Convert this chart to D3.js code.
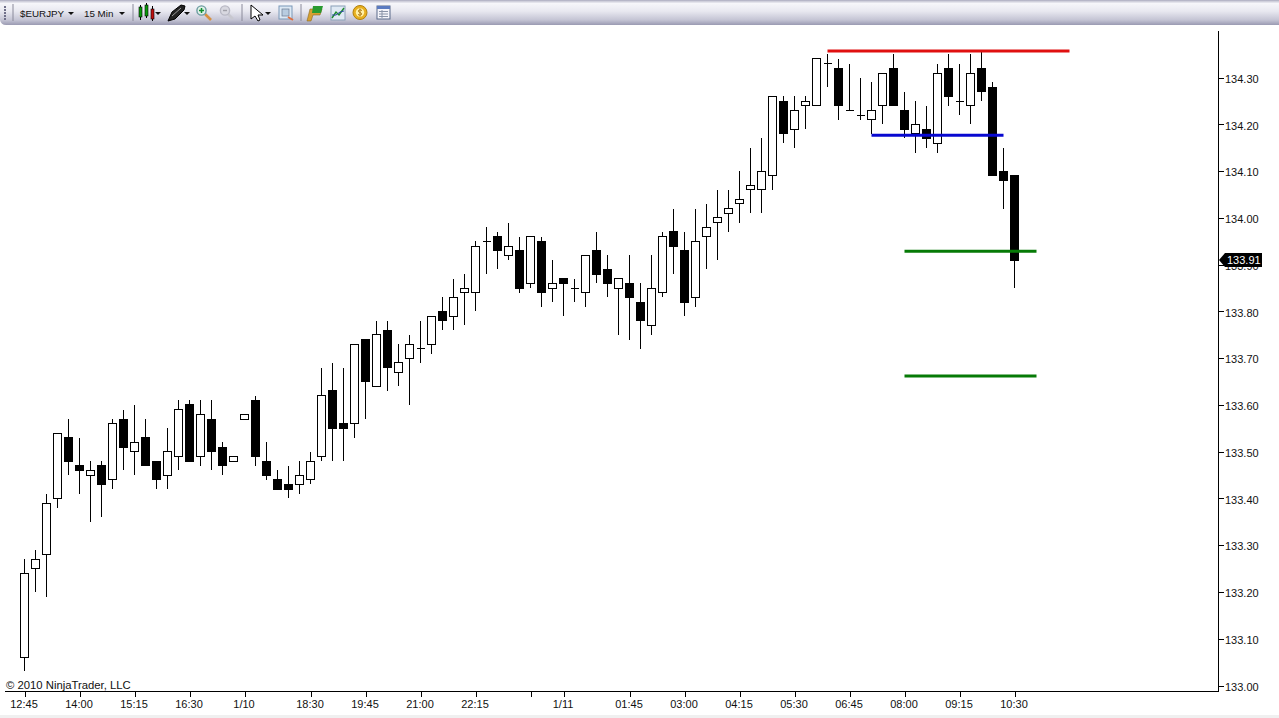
<!DOCTYPE html>
<html><head><meta charset="utf-8">
<script src="https://d3js.org/d3.v7.min.js"></script>
<style>
html,body{margin:0;padding:0;background:#fff;overflow:hidden}
svg{display:block}
text{font-family:"Liberation Sans",Arial,sans-serif;fill:#111}
</style></head><body><svg id="c" width="1279" height="718"></svg>
<script>
const opens=[133.06,133.25,133.28,133.40,133.53,133.47,133.45,133.47,133.44,133.57,
133.50,133.53,133.48,133.45,133.49,133.60,133.49,133.57,133.51,133.48,
133.57,133.61,133.48,133.44,133.43,133.43,133.44,133.49,133.63,133.56,
133.56,133.74,133.64,133.76,133.67,133.70,133.72,133.73,133.80,133.79,
133.84,133.84,133.95,133.96,133.92,133.93,133.86,133.95,133.85,133.87,
133.85,133.84,133.93,133.89,133.85,133.86,133.82,133.77,133.84,133.97,
133.93,133.83,133.96,133.99,134.01,134.03,134.06,134.06,134.09,134.25,
134.19,134.24,134.24,134.33,134.32,134.23,134.22,134.21,134.24,134.32,
134.23,134.18,134.19,134.16,134.32,134.25,134.24,134.32,134.28,134.10,134.09];
const highs=[133.27,133.29,133.41,133.54,133.57,133.53,133.48,133.48,133.57,133.59,
133.60,133.57,133.48,133.55,133.61,133.61,133.61,133.61,133.52,133.49,
133.58,133.62,133.52,133.46,133.47,133.48,133.50,133.68,133.69,133.68,
133.73,133.74,133.78,133.78,133.73,133.75,133.78,133.79,133.83,133.87,
133.88,133.95,133.98,133.97,133.99,133.96,133.96,133.96,133.91,133.87,
133.87,133.92,133.97,133.92,133.87,133.92,133.86,133.92,133.97,134.02,
133.97,134.02,134.03,134.06,134.06,134.10,134.15,134.17,134.26,134.26,
134.26,134.26,134.34,134.35,134.34,134.33,134.30,134.29,134.31,134.35,
134.27,134.25,134.24,134.33,134.35,134.33,134.35,134.36,134.29,134.15,134.09];
const lows=[133.03,133.20,133.19,133.38,133.45,133.41,133.35,133.36,133.42,133.46,
133.45,133.47,133.42,133.42,133.46,133.48,133.47,133.46,133.45,133.48,
133.57,133.47,133.44,133.42,133.40,133.41,133.43,133.48,133.48,133.48,
133.53,133.57,133.64,133.63,133.64,133.60,133.69,133.71,133.76,133.76,
133.77,133.80,133.88,133.89,133.91,133.84,133.85,133.81,133.82,133.79,
133.82,133.81,133.86,133.83,133.75,133.74,133.72,133.75,133.83,133.88,
133.79,133.81,133.89,133.91,133.97,133.99,134.01,134.01,134.06,134.16,
134.15,134.19,134.24,134.28,134.21,134.23,134.21,134.18,134.20,134.24,
134.17,134.14,134.15,134.14,134.24,134.22,134.20,134.25,134.09,134.02,133.85];
const closes=[133.24,133.27,133.39,133.54,133.48,133.46,133.46,133.43,133.56,133.51,
133.52,133.47,133.44,133.50,133.59,133.48,133.58,133.50,133.47,133.49,
133.58,133.49,133.45,133.42,133.42,133.45,133.48,133.62,133.55,133.55,
133.73,133.65,133.75,133.68,133.69,133.73,133.72,133.79,133.78,133.83,
133.85,133.94,133.95,133.93,133.94,133.85,133.96,133.84,133.86,133.86,
133.85,133.92,133.88,133.86,133.87,133.83,133.78,133.85,133.96,133.94,
133.82,133.95,133.98,134.00,134.02,134.04,134.07,134.10,134.26,134.18,
134.23,134.25,134.34,134.33,134.24,134.23,134.22,134.23,134.31,134.24,
134.19,134.20,134.17,134.31,134.26,134.25,134.31,134.27,134.09,134.08,133.91];

const timeTickBars=[0,5,10,15,20,26,31,36,41,46,49,55,60,65,70,75,80,85,90];
const timeTickLabels=["12:45","14:00","15:15","16:30","1/10","18:30","19:45","21:00","22:15","","1/11","01:45","03:00","04:15","05:30","06:45","08:00","09:15","10:30"];
const priceTicks=[133.00,133.10,133.20,133.30,133.40,133.50,133.60,133.70,133.80,133.90,134.00,134.10,134.20,134.30];

const levelPrices=[134.357,134.177,133.929,133.662];
const levelStarts=[73,77,80,80];
const levelEnds=[95,89,92,92];
const levelColors=["#e01010","#0808d0","#067a06","#067a06"];

const lastPrice=133.91;
const symbolText="$EURJPY", periodText="15 Min", copyrightText="© 2010 NinjaTrader, LLC";

const svg=d3.select("#c");
const x=d3.scaleLinear().domain([0,90]).range([24.5,1014.5]);
const y=d3.scaleLinear().domain([133.0,134.3]).range([685.5,77.7]);
const defs=svg.append("defs");

// window bottom strip
svg.append("rect").attr("x",0).attr("y",715).attr("width",1279).attr("height",3).attr("fill","#f0f0f0");

// candles
const candles=d3.range(opens.length).map(i=>({i,o:opens[i],h:highs[i],l:lows[i],c:closes[i]}));
const g=svg.append("g").attr("class","candles");
const cg=g.selectAll("g").data(candles).join("g").attr("shape-rendering","crispEdges");
cg.append("line").attr("x1",d=>x(d.i)).attr("x2",d=>x(d.i))
  .attr("y1",d=>y(d.h)).attr("y2",d=>y(d.l)).attr("stroke","#000").attr("stroke-width",1);
cg.filter(d=>d.o!==d.c).append("rect")
  .attr("x",d=>x(d.i)-4).attr("width",8)
  .attr("y",d=>y(Math.max(d.o,d.c)))
  .attr("height",d=>Math.abs(y(d.o)-y(d.c)))
  .attr("fill",d=>d.c>d.o?"#fff":"#000").attr("stroke","#000").attr("stroke-width",1);
cg.filter(d=>d.o===d.c).append("line")
  .attr("x1",d=>x(d.i)-4).attr("x2",d=>x(d.i)+4)
  .attr("y1",d=>y(d.o)).attr("y2",d=>y(d.o)).attr("stroke","#000").attr("stroke-width",1);

// drawn levels
svg.append("g").selectAll("line").data(levelPrices).join("line")
  .attr("x1",(d,i)=>x(levelStarts[i])).attr("x2",(d,i)=>x(levelEnds[i]))
  .attr("y1",d=>y(d)).attr("y2",d=>y(d))
  .attr("stroke",(d,i)=>levelColors[i]).attr("stroke-width",3);

// x axis
const xAxis=d3.axisBottom(x).tickValues(timeTickBars)
  .tickFormat((d,i)=>timeTickLabels[i]).tickSize(6).tickPadding(3).tickSizeOuter(0);
const gx=svg.append("g").attr("transform","translate(0,691)").call(xAxis);
gx.select(".domain").remove();
gx.selectAll("line").attr("stroke","#000").attr("shape-rendering","crispEdges");
gx.selectAll("text").attr("font-size",11).attr("font-family",'"Liberation Sans",Arial,sans-serif').attr("fill","#222").attr("dx",-1);
svg.append("line").attr("x1",5).attr("x2",1218.5).attr("y1",691.5).attr("y2",691.5).attr("stroke","#000").attr("shape-rendering","crispEdges");

// y axis
const yAxis=d3.axisRight(y).tickValues(priceTicks).tickFormat(d3.format(".2f")).tickSize(6).tickPadding(1).tickSizeOuter(0);
const gy=svg.append("g").attr("transform","translate(1218,0)").call(yAxis);
gy.select(".domain").remove();
gy.selectAll("line").attr("stroke","#000").attr("shape-rendering","crispEdges");
gy.selectAll("text").attr("font-size",11).attr("font-family",'"Liberation Sans",Arial,sans-serif').attr("fill","#222").attr("dy","0.42em");
svg.append("line").attr("x1",1218.5).attr("x2",1218.5).attr("y1",31).attr("y2",692).attr("stroke","#000").attr("shape-rendering","crispEdges");

// last price marker
const my=y(lastPrice);
svg.append("path").attr("d",d3.line()([[1219,my],[1225,my-7],[1262,my-7],[1262,my+7],[1225,my+7]])+"Z").attr("fill","#000");
svg.append("text").attr("x",1227).attr("y",my+4).attr("font-size",11).style("fill","#fff").text(lastPrice.toFixed(2));

// copyright
svg.append("text").attr("x",6).attr("y",689).attr("font-size",11.3).attr("fill","#222").text(copyrightText);

// ---------- toolbar ----------
const grad=defs.append("linearGradient").attr("id","tb").attr("x1",0).attr("x2",0).attr("y1",0).attr("y2",1);
[[0,"#a9a9bd"],[0.06,"#d0d0dc"],[0.14,"#f6f6fa"],[0.45,"#e8e8f0"],[0.8,"#c4c4d4"],[1,"#9a9ab2"]]
 .forEach(s=>grad.append("stop").attr("offset",s[0]).attr("stop-color",s[1]));
const tb=svg.append("g");
tb.append("path").attr("d","M0 0H1279V25H6Q1 25 0 20Z").attr("fill","url(#tb)");
tb.selectAll("rect.grip").data([6,9,12,15,18]).join("rect").attr("class","grip").attr("x",4).attr("y",d=>d).attr("width",2).attr("height",2).attr("fill","#70708a");
tb.selectAll("line.sep").data([13,133,242,301]).join("line").attr("class","sep").attr("x1",d=>d).attr("x2",d=>d).attr("y1",4).attr("y2",21).attr("stroke","#8a8a9a");
tb.append("text").attr("x",20).attr("y",17).attr("font-size",9.8).text(symbolText);
tb.append("text").attr("x",84).attr("y",17).attr("font-size",9.8).text(periodText);
tb.selectAll("path.arr").data([71,122,158,187,268]).join("path").attr("class","arr")
  .attr("d",d=>`M${d-3} 12H${d+3}L${d} 15Z`).attr("fill","#111");
// candle icon
[[139,7,17,"#0a9a0a",5,20],[145,5,16,"#0a9a0a",3,18],[151,9,19,"#c01010",6,21]].forEach(c=>{
  tb.append("line").attr("x1",c[0]+1.5).attr("x2",c[0]+1.5).attr("y1",c[4]).attr("y2",c[5]).attr("stroke","#000");
  tb.append("rect").attr("x",c[0]).attr("y",c[1]).attr("width",3).attr("height",c[2]-c[1]).attr("fill",c[3]).attr("stroke","#000").attr("stroke-width",.6);
});
// pen
tb.append("path").attr("d","M168 21L172 12L181 5L185 6L184 10L175 19Z").attr("fill","#222").attr("stroke","#000");
tb.append("path").attr("d","M172 16L181 8").attr("stroke","#9a9a9a");
// magnifiers
tb.append("line").attr("x1",205).attr("y1",14).attr("x2",211).attr("y2",20).attr("stroke","#d89040").attr("stroke-width",2.6);
tb.append("circle").attr("cx",201.5).attr("cy",10.5).attr("r",4.6).attr("fill","#e0f0e8").attr("stroke","#6a9aa0").attr("stroke-width",1.4);
tb.append("path").attr("d","M199 10.5H204M201.5 8V13").attr("stroke","#109030").attr("stroke-width",1.5);
tb.append("line").attr("x1",228).attr("y1",14).attr("x2",233).attr("y2",19).attr("stroke","#c8c8d0").attr("stroke-width",2.6);
tb.append("circle").attr("cx",225).attr("cy",10.5).attr("r",4.6).attr("fill","#d8d8e0").attr("stroke","#b8b8c4").attr("stroke-width",1.4);
tb.append("path").attr("d","M223 10.5H227").attr("stroke","#a0a0a8").attr("stroke-width",1.4);
// pointer
tb.append("path").attr("d","M251 5V19L255 16L258 21L260 20L258 15L263 15Z").attr("fill","#fff").attr("stroke","#000");
// image icon
tb.append("rect").attr("x",279).attr("y",6).attr("width",13).attr("height",13).attr("fill","#dce8f4").attr("stroke","#7a98b8");
tb.append("rect").attr("x",282).attr("y",9).attr("width",7).attr("height",7).attr("fill","#b8cce0").attr("stroke","#6a7a90").attr("stroke-width",.7);
tb.append("path").attr("d","M288 17L293 20").attr("stroke","#e07040").attr("stroke-width",2);
// folder-like icon
tb.append("path").attr("d","M310 9H322L320 15H313L311 21H307Z").attr("fill","#d8a030").attr("stroke","#8a6a20").attr("stroke-width",.6);
tb.append("path").attr("d","M313 6H323L321 13H312Z").attr("fill","#2a9a30");
// chart icon
tb.append("rect").attr("x",331).attr("y",6).attr("width",14).attr("height",14).attr("fill","#dfe9f4").attr("stroke","#8aa0b8");
tb.append("path").attr("d","M332 18L336 12L339 15L344 8").attr("fill","none").attr("stroke","#1a8a2a").attr("stroke-width",1.4);
tb.append("path").attr("d","M332 15L336 15L340 12L344 11").attr("fill","none").attr("stroke","#2a4aa0");
// coin
tb.append("circle").attr("cx",360).attr("cy",12.5).attr("r",7).attr("fill","#e8b020").attr("stroke","#b08010");
tb.append("circle").attr("cx",360).attr("cy",12.5).attr("r",4.2).attr("fill","#fff0a8");
tb.append("path").attr("d","M362 10.5Q360 9 358.5 10.5Q358 12 360 12.5Q362 13 361.5 14.5Q360 16 358 14.5M360 8.5V16.5").attr("fill","none").attr("stroke","#b07a10").attr("stroke-width",1);
// table
tb.append("rect").attr("x",377).attr("y",6).attr("width",13).attr("height",13).attr("fill","#f4f4fa").attr("stroke","#5a6a8a");
tb.append("rect").attr("x",377).attr("y",6).attr("width",13).attr("height",3).attr("fill","#5a7ac0");
tb.append("path").attr("d","M379 11.5H388M379 14H388M379 16.5H388M382 10V18").attr("stroke","#8a94a8");
</script></body></html>
